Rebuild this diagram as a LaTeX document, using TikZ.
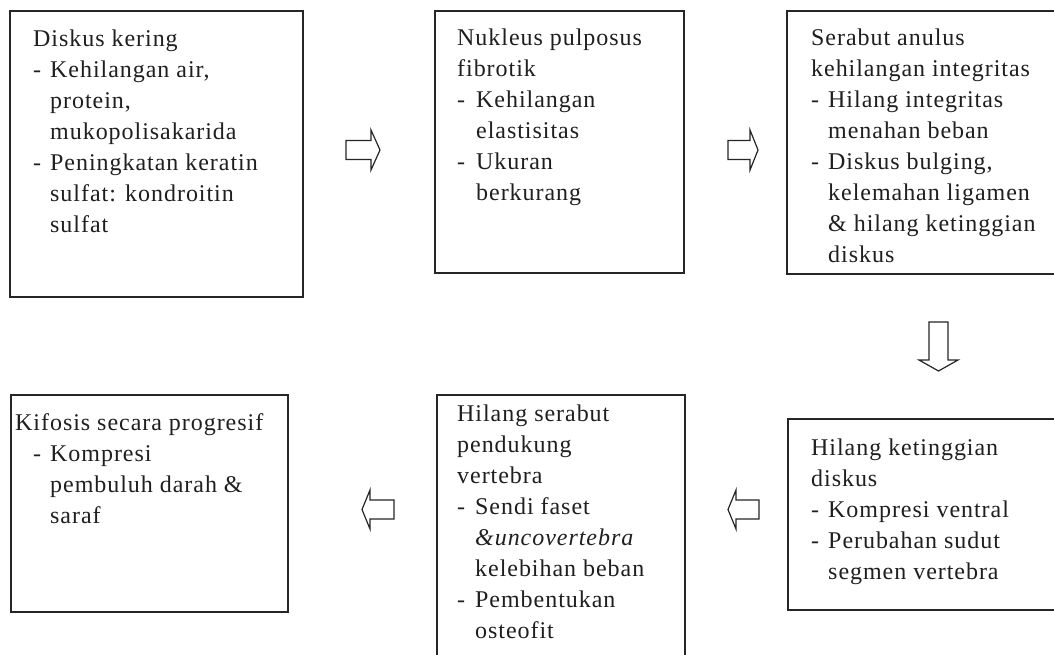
\documentclass[tikz,border=0pt]{standalone}
\usepackage{fontspec}
\setmainfont{Liberation Serif}[LetterSpace=4]
\newcommand\myitem{\makebox[17pt][l]{-}}
\newcommand\mycont{\hspace*{17pt}}
\newcommand\firstline{\rule{0pt}{22pt}}
\begin{document}
\begin{tikzpicture}[x=1pt,y=-1pt,
  box/.style={draw=black!85,line width=1.8pt},
  txt/.style={anchor=north west,inner sep=0pt,align=left,font=\fontsize{24}{31}\selectfont,text=black!88},
  blockarrow/.style={draw=black!85,line width=1.2pt,fill=white,line join=miter}]
\useasboundingbox (0,0) rectangle (1054,655);
\clip (0,0) rectangle (1054,655);
\fill[white] (0,0) rectangle (1054,655);
% boxes
\draw[box] (10,11) rectangle (303,297) coordinate (b1);
\draw[box] (435,11) rectangle (684,273) coordinate (b2);
\draw[box] (787,11) rectangle (1070,274) coordinate (b3);
\draw[box] (788,419) rectangle (1070,610) coordinate (b4);
\draw[box] (437,395) rectangle (685,680) coordinate (b5);
\draw[box] (11,395) rectangle (288,612) coordinate (b6);
% texts
\node[txt] (t1) at (33,24) {\firstline Diskus kering\\
\myitem Kehilangan air,\\
\mycont protein,\\
\mycont mukopolisakarida\\
\myitem Peningkatan keratin\\
\mycont sulfat: kondroitin\\
\mycont sulfat};
\node[txt] (t2) at (457,23) {\firstline Nukleus pulposus\\
fibrotik\\
\makebox[19pt][l]{-}Kehilangan\\
\hspace*{19pt}elastisitas\\
\makebox[19pt][l]{-}Ukuran\\
\hspace*{19pt}berkurang};
\node[txt] (t3) at (811,23) {\firstline Serabut anulus\\
kehilangan integritas\\
\myitem Hilang integritas\\
\mycont menahan beban\\
\myitem Diskus bulging,\\
\mycont kelemahan ligamen\\
\mycont \& hilang ketinggian\\
\mycont diskus};
\node[txt] (t4) at (811,433) {\firstline Hilang ketinggian\\
diskus\\
\myitem Kompresi ventral\\
\myitem Perubahan sudut\\
\mycont segmen vertebra};
\node[txt] (t5) at (457,399) {\firstline Hilang serabut\\
pendukung\\
vertebra\\
\makebox[18pt][l]{-}Sendi faset\\
\hspace*{18pt}\textit{\&uncovertebra}\\
\hspace*{18pt}kelebihan beban\\
\makebox[18pt][l]{-}Pembentukan\\
\hspace*{18pt}osteofit};
\node[txt] (t6) at (15,408) {\firstline Kifosis secara progresif\\
\hspace*{18pt}\myitem Kompresi\\
\hspace*{18pt}\mycont pembuluh darah \&\\
\hspace*{18pt}\mycont saraf};
% block arrows
\draw[blockarrow] (346,140.5) -- (371,140.5) -- (371,130) -- (380,150) -- (371,170) -- (371,159.5) -- (346,159.5) -- cycle;
\draw[blockarrow] (728,140.5) -- (750,140.5) -- (750,130) -- (758,150) -- (750,170) -- (750,159.5) -- (728,159.5) -- cycle;
\draw[blockarrow] (929,322) -- (929,360) -- (919,360) -- (938.5,371) -- (958,360) -- (948,360) -- (948,322) -- cycle;
\draw[blockarrow] (394,500) -- (370,500) -- (370,490) -- (362,509.5) -- (370,529) -- (370,519) -- (394,519) -- cycle;
\draw[blockarrow] (759,500) -- (736,500) -- (736,490) -- (728,509.5) -- (736,529) -- (736,519) -- (759,519) -- cycle;
\end{tikzpicture}
\end{document}
